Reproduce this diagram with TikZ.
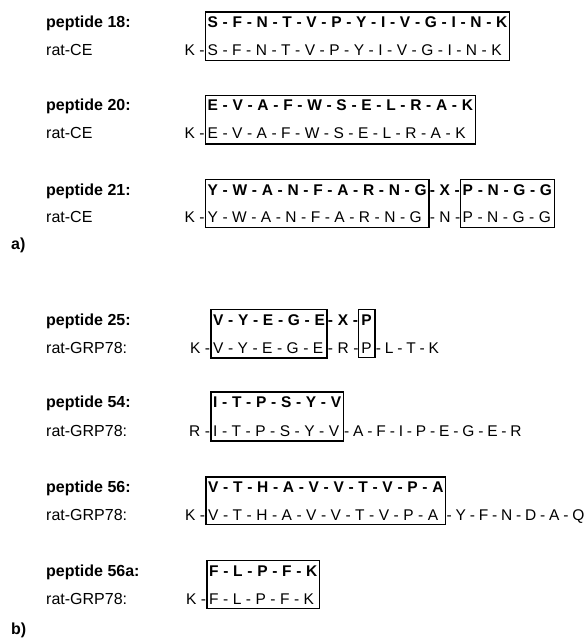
\documentclass[tikz,border=0pt]{standalone}
\usepackage{fontspec}
\setmainfont{Liberation Sans}
\usetikzlibrary{fit}
% fonts and interword spacing of the sequence rows
\newcommand\boldseqfont{\fontsize{15.5}{18}\selectfont\bfseries\spaceskip=4.7pt\relax}
\newcommand\plainseqfont{\fontsize{15.5}{18}\selectfont\spaceskip=4.5pt\relax}
\newcommand\tailseqfont{\fontsize{15.5}{18}\selectfont\spaceskip=3.85pt\relax}
\begin{document}
\begin{tikzpicture}[x=1pt,y=-1pt,
  bseq/.style={inner sep=0pt, anchor=base west, font=\boldseqfont},
  rseq/.style={inner sep=0pt, anchor=base west, font=\plainseqfont},
  rtail/.style={inner sep=0pt, anchor=base west, font=\tailseqfont},
  rhead/.style={inner sep=0pt, anchor=base east, font=\plainseqfont},
  lblb/.style={inner sep=0pt, anchor=base west, font=\fontsize{16}{19}\selectfont\bfseries},
  lblr/.style={inner sep=0pt, anchor=base west, font=\fontsize{16}{19}\selectfont},
  sbox/.style={draw, line width=1.4pt, inner xsep=2pt, inner ysep=4.5pt},
  tag/.style={inner sep=0pt, anchor=base west, font=\fontsize{16}{19}\selectfont\bfseries},
]
\useasboundingbox (0,0) rectangle (588,639);

% ---------------- a) rat-CE ----------------
% peptide 18
\node[lblb] (l18) at (46,27.5) {peptide 18:};
\node[lblr] (c18) at (46,55.5) {rat-CE};
\node[bseq] (t18) at (207.5,27.5) {S - F - N - T - V - P - Y - I - V - G - I - N - K};
\node[rseq] (r18) at (207.5,55.5) {S - F - N - T - V - P - Y - I - V - G - I - N - K};
\node[sbox, fit=(t18)(r18)] (x18) {};
\node[rhead] (k18) at (x18.west |- r18.base) {K -};

% peptide 20
\node[lblb] (l20) at (46,111) {peptide 20:};
\node[lblr] (c20) at (46,139) {rat-CE};
\node[bseq] (t20) at (207.5,111) {E - V - A - F - W - S - E - L - R - A - K};
\node[rseq] (r20) at (207.5,139) {E - V - A - F - W - S - E - L - R - A - K};
\node[sbox, fit=(t20)(r20)] (x20) {};
\node[rhead] (k20) at (x20.west |- r20.base) {K -};

% peptide 21
\node[lblb] (l21) at (46,195) {peptide 21:};
\node[lblr] (c21) at (46,222.5) {rat-CE};
\node[bseq] (t21a) at (207.5,195) {Y - W - A - N - F - A - R - N - G};
\node[rseq] (r21a) at (207.5,222.5) {Y - W - A - N - F - A - R - N - G};
\node[sbox, fit=(t21a)(r21a)] (x21a) {};
\node[rhead] (k21) at (x21a.west |- r21a.base) {K -};
\node[bseq] (m21t) at (x21a.east |- t21a.base) {- X -};
\node[rseq] (m21r) at (x21a.east |- r21a.base) {- N -};
\node[bseq] (t21b) at ([xshift=2.5pt]m21t.base east) {P - N - G - G};
\node[rseq] (r21b) at (t21b.base west |- r21a.base) {P - N - G - G};
\node[sbox, fit=(t21b)(r21b)] (x21b) {};

\node[tag] (ta) at (11,249) {a)};

% ---------------- b) rat-GRP78 ----------------
% peptide 25
\node[lblb] (l25) at (46,325) {peptide 25:};
\node[lblr] (c25) at (46,353) {rat-GRP78:};
\node[bseq] (t25a) at (213,325) {V - Y - E - G - E};
\node[rseq] (r25a) at (213,353) {V - Y - E - G - E};
\node[sbox, fit=(t25a)(r25a)] (x25a) {};
\node[rhead] (k25) at (x25a.west |- r25a.base) {K -};
\node[bseq] (m25t) at (x25a.east |- t25a.base) {- X -};
\node[rseq] (m25r) at (x25a.east |- r25a.base) {- R -};
\node[bseq] (t25b) at ([xshift=3pt]m25t.base east) {P};
\node[rseq] (r25b) at (t25b.base west |- r25a.base) {P};
\node[sbox, inner xsep=3pt, fit=(t25b)(r25b)] (x25b) {};
\node[rtail] (e25) at (x25b.east |- r25b.base) {- L - T - K};

% peptide 54
\node[lblb] (l54) at (46,407.5) {peptide 54:};
\node[lblr] (c54) at (46,436) {rat-GRP78:};
\node[bseq] (t54) at (213,407.5) {I - T - P - S - Y - V};
\node[rseq] (r54) at (213,436) {I - T - P - S - Y - V};
\node[sbox, fit=(t54)(r54)] (x54) {};
\node[rhead] (k54) at (x54.west |- r54.base) {R -};
\node[rtail] (e54) at (x54.east |- r54.base) {- A - F - I - P - E - G - E - R};

% peptide 56
\node[lblb] (l56) at (46,492.5) {peptide 56:};
\node[lblr] (c56) at (46,520) {rat-GRP78:};
\node[bseq] (t56) at (208,492.5) {V - T - H - A - V - V - T - V - P - A};
\node[rseq] (r56) at (208,520) {V - T - H - A - V - V - T - V - P - A};
\node[sbox, fit=(t56)(r56)] (x56) {};
\node[rhead] (k56) at (x56.west |- r56.base) {K -};
\node[rtail] (e56) at (x56.east |- r56.base) {- Y - F - N - D - A - Q};

% peptide 56a
\node[lblb] (l56a) at (46,576) {peptide 56a:};
\node[lblr] (c56a) at (46,604) {rat-GRP78:};
\node[bseq] (t56a) at (209,576) {F - L - P - F - K};
\node[rseq] (r56a) at (209,604) {F - L - P - F - K};
\node[sbox, fit=(t56a)(r56a)] (x56a) {};
\node[rhead] (k56a) at (x56a.west |- r56a.base) {K -};

\node[tag] (tb) at (11,634) {b)};
\end{tikzpicture}
\end{document}
